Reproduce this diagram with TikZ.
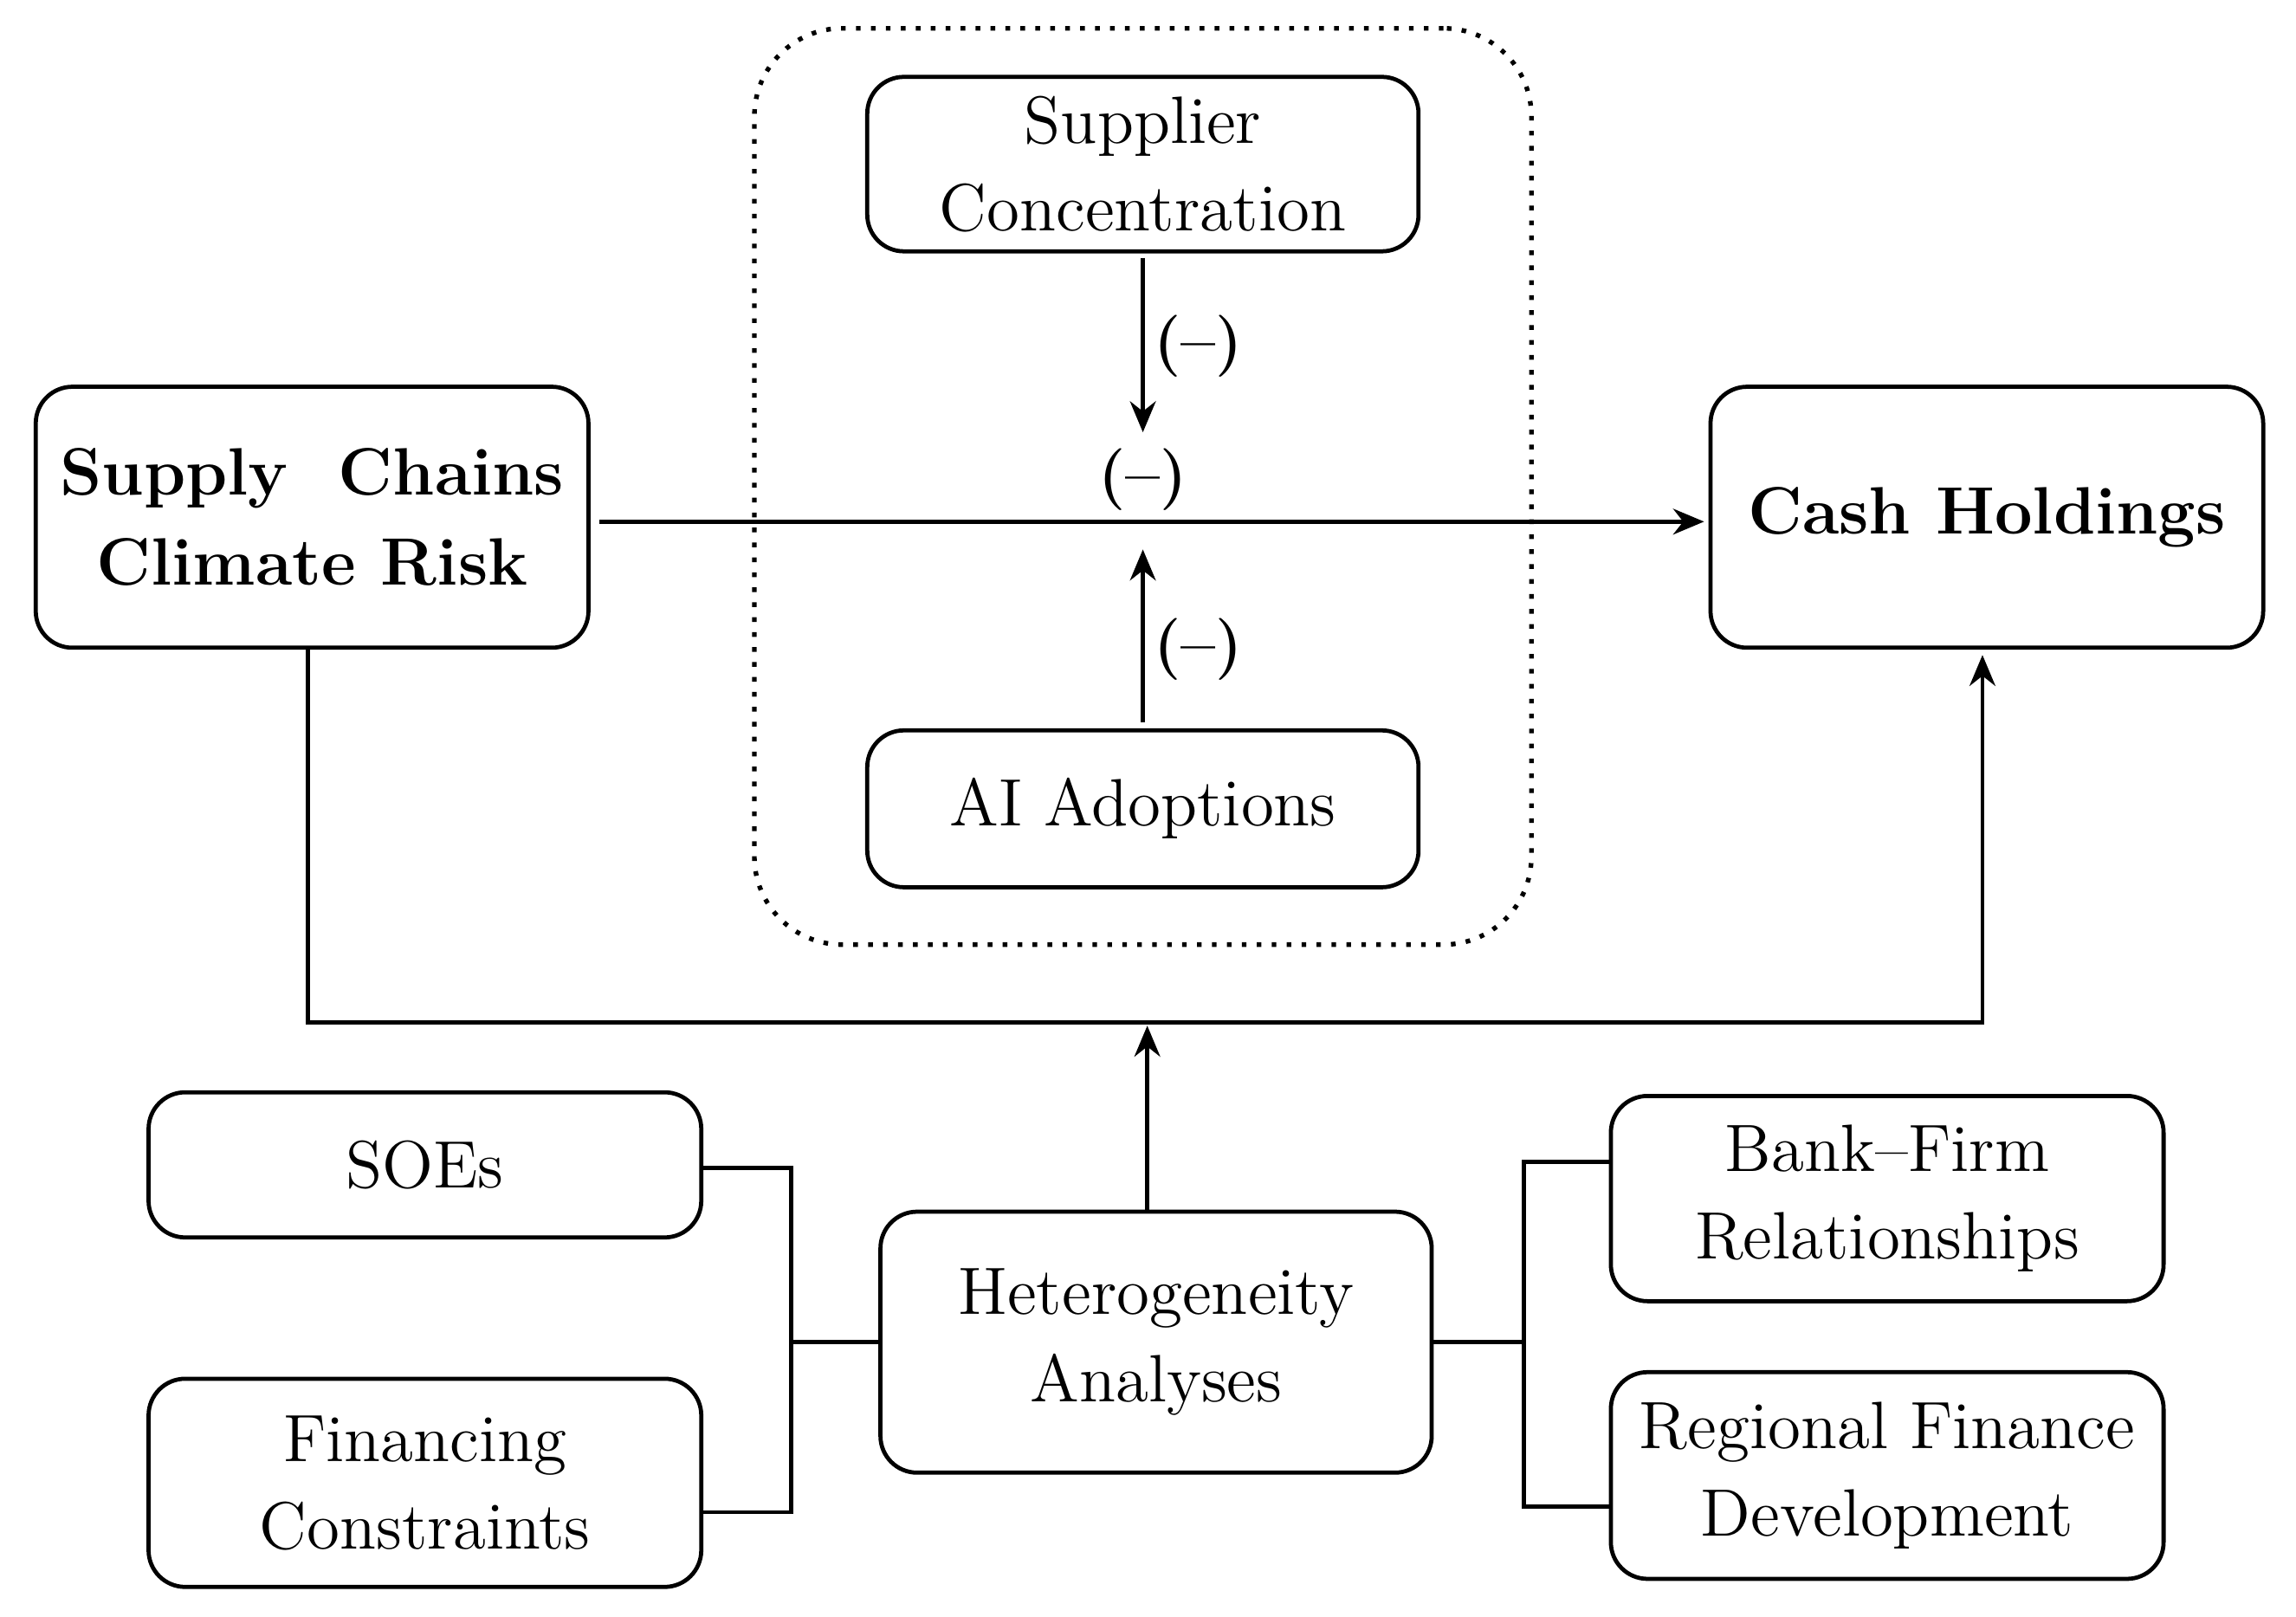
\documentclass[tikz,border=0pt]{standalone}
\usetikzlibrary{arrows.meta}
\begin{document}
\begin{tikzpicture}[x=0.01cm,y=-0.01cm,
 box/.style={draw,line width=0.8pt,rounded corners=0.25cm,align=center,inner sep=0pt,font=\fontsize{13}{17}\selectfont},
 bbox/.style={box,font=\fontsize{13}{17.5}\selectfont\bfseries},
 ln/.style={line width=0.8pt},
 ar/.style={ln,-{Stealth[length=6pt,width=5pt]}},
 lab/.style={font=\fontsize{12}{14}\selectfont\bfseries}]
\useasboundingbox (0,0) rectangle (1567,1103);
\node[draw,dotted,line width=0.9pt,rounded corners=0.6cm,minimum width=5.3cm,minimum height=6.25cm] (dot) at (780,332) {};
\node[box,minimum width=3.76cm,minimum height=1.19cm] (sup) at (780,112) {Supplier\\Concentration};
\node[box,minimum width=3.76cm,minimum height=1.07cm] (ai) at (780,552) {AI Adoptions};
\node[bbox,minimum width=3.77cm,minimum height=1.78cm] (scr) at (213,353) {Supply\ \ Chains\\Climate Risk};
\node[bbox,minimum width=3.77cm,minimum height=1.78cm] (cash) at (1356,353) {Cash Holdings};
\node[box,minimum width=3.76cm,minimum height=1.78cm] (het) at (789,916) {Heterogeneity\\Analyses};
\node[box,minimum width=3.77cm,minimum height=0.99cm] (soe) at (290,795) {SOEs};
\node[box,minimum width=3.77cm,minimum height=1.42cm] (fin) at (290,1012) {Financing\\Constraints};
\node[box,minimum width=3.77cm,minimum height=1.40cm] (bank) at (1288,818) {Bank--Firm\\Relationships};
\node[box,minimum width=3.77cm,minimum height=1.41cm] (reg) at (1288,1007) {Regional Finance\\Development};
\coordinate (m1) at (780,295);
\coordinate (m2) at (780,375);
\coordinate (m3) at (783,700);
\draw[ar] (scr.east|-0,356) ++(6,0) -- (1163,356) coordinate (ce);
\draw[ar] (sup.south) ++(0,3) -- (m1);
\draw[ar] (ai.north) ++(0,-4) -- (m2);
\node[lab] at (818,236) {(--)};
\node[lab] at (818,443) {(--)};
\node[lab] at (780,327) {(--)};
\draw[ar] (210,442) -- (210,698) -- (1353,698) -- (1353,447);
\draw[ar] (het.north-|m3) -- (m3);
\draw[ln] (soe.east|-0,797) -- (540,797) -- (540,1032) -- (fin.east|-0,1032);
\draw[ln] (het.west) -- (540,916);
\draw[ln] (bank.west|-0,793) -- (1040,793) -- (1040,1028) -- (reg.west|-0,1028);
\draw[ln] (het.east) -- (1040,916);
\end{tikzpicture}
\end{document}
